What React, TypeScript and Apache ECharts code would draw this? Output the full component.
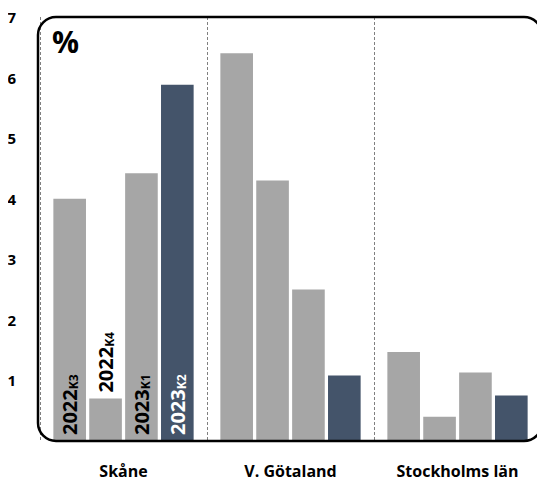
import React, { useRef, useEffect } from 'react'
import * as echarts from 'echarts'

const regions = ['Skåne', 'V. Götaland', 'Stockholms län']
const quarters = [
  { year: '2022', q: 'K3' },
  { year: '2022', q: 'K4' },
  { year: '2023', q: 'K1' },
  { year: '2023', q: 'K2' },
]
const values = [
  [4.0, 6.4, 1.47],
  [0.7, 4.3, 0.4],
  [4.42, 2.5, 1.13],
  [5.88, 1.08, 0.75],
]
const yTicks = [1, 2, 3, 4, 5, 6, 7]

const GREY = '#a6a6a6'
const DARK = '#44546a'
const FONT = 'Open Sans, sans-serif'

export default function App() {
  const ref = useRef<HTMLDivElement>(null)

  useEffect(() => {
    if (!ref.current) return
    const chart = echarts.init(ref.current, null, { renderer: 'svg' })
    const series = values.map((vals, i) => {
      const dark = i === 3
      const txt = dark ? '#ffffff' : '#000000'
      const above = vals[0] < 1.5
      return {
        type: 'bar',
        barGap: '10%',
        barCategoryGap: '16%',
        itemStyle: { color: dark ? DARK : GREY },
        data: vals.map((v, j) => ({
          value: v,
          label: j === 0 ? {
            show: true,
            position: above ? 'top' : 'insideBottom',
            distance: 6,
            rotate: 90,
            align: 'left',
            verticalAlign: 'middle',
            formatter: `{y|${quarters[i].year}}{q|${quarters[i].q}}`,
            rich: {
              y: { fontSize: 20, fontWeight: 'bold', color: txt, fontFamily: FONT },
              q: { fontSize: 12, fontWeight: 'bold', color: txt, fontFamily: FONT, verticalAlign: 'bottom', padding: [7, 0, 0, 0] },
            },
          } : { show: false },
        })),
      }
    })
    chart.setOption({
      animation: false,
      grid: { left: 40, right: 4, top: 17, bottom: 45 },
      xAxis: {
        type: 'category',
        data: regions,
        axisLine: { show: false },
        axisTick: { show: false },
        axisLabel: { fontSize: 16, fontWeight: 'bold', color: '#000', fontFamily: FONT, margin: 22 },
        splitLine: { show: true, lineStyle: { type: [3, 2], color: '#808080', width: 1 } },
      },
      yAxis: {
        type: 'value',
        min: 0,
        max: 7,
        interval: 1,
        axisLine: { show: false },
        axisTick: { show: false },
        splitLine: { show: false },
        axisLabel: {
          fontSize: 15, fontWeight: 'bold', color: '#000', fontFamily: FONT, margin: 24,
          formatter: (v: number) => (yTicks.includes(v) ? String(v) : ''),
        },
      },
      graphic: [
        {
          type: 'rect',
          shape: { x: 38, y: 17, width: 504, height: 424, r: 18 },
          style: { fill: 'none', stroke: '#000', lineWidth: 2.5 },
          z: 100,
        },
        {
          type: 'text',
          left: 52,
          top: 26,
          style: { text: '%', fontSize: 30, fontWeight: 'bold', fill: '#000', fontFamily: FONT },
          z: 100,
        },
      ],
      series,
    })
    return () => chart.dispose()
  }, [])

  return <div ref={ref} style={{ width: 545, height: 486, margin: -8 }} />
}
